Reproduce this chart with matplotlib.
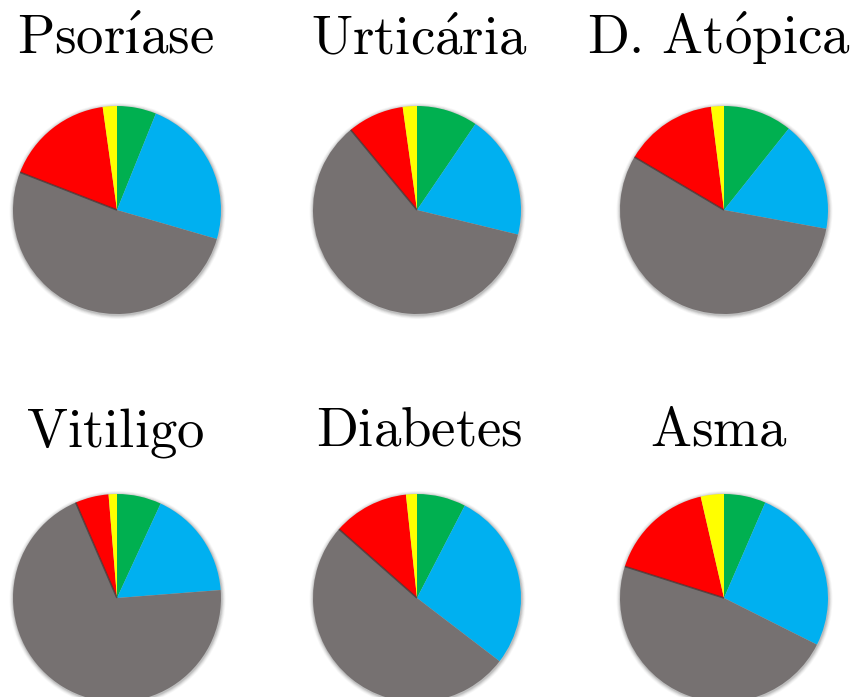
import numpy as np
import matplotlib
matplotlib.use("Agg")
import matplotlib.pyplot as plt
from matplotlib.patches import Circle

plt.rcParams["mathtext.fontset"] = "cm"

# Disease panels and share of each category (percent)
titles = [
    r"$\mathrm{Psor\acute{ı}ase}$",
    r"$\mathrm{Urtic\acute{a}ria}$",
    r"$\mathrm{D.\,At\acute{o}pica}$",
    r"$\mathrm{Vitiligo}$",
    r"$\mathrm{Diabetes}$",
    r"$\mathrm{Asma}$",
]
green = [6.1, 9.5, 10.7, 6.9, 7.6, 6.5]
blue = [23.4, 19.3, 17.2, 16.9, 27.8, 25.9]
gray = [51.4, 60.2, 55.6, 69.8, 51.1, 47.5]
red = [16.9, 8.8, 14.5, 5.2, 11.8, 16.5]
yellow = [2.2, 2.2, 2.0, 1.3, 1.7, 3.6]

colors = ["#00B050", "#00B0F0", "#767171", "#FF0000", "#FFFF00"]

W, H = 853, 697
fig = plt.figure(figsize=(W / 100, H / 100), dpi=100)
ax = fig.add_axes([0, 0, 1, 1])

centers_x = [117, 417, 724]
title_x = [115, 419, 719]
row_center_y = [H - 210, H - 598]
title_y = [H - 54, H - 446]
R = 104

for i, title in enumerate(titles):
    row, col = divmod(i, 3)
    cx, cy = centers_x[col], row_center_y[row]
    # soft drop shadow
    for k, a in zip(range(5, 0, -1), [0.03, 0.04, 0.05, 0.07, 0.09]):
        ax.add_patch(Circle((cx + 0.5, cy - 1), R + k * 0.8, facecolor="black",
                            edgecolor="none", alpha=a, zorder=1))
    vals = [green[i], blue[i], gray[i], red[i], yellow[i]]
    wedges, _ = ax.pie(vals, colors=colors, startangle=90, counterclock=False,
                       center=(cx, cy), radius=R, frame=True,
                       wedgeprops=dict(linewidth=0))
    for w in wedges:
        w.set_zorder(2)
    # darker seam where the gray slice meets the red one
    ang = np.deg2rad(wedges[2].theta1)
    ax.plot([cx, cx + R * np.cos(ang)], [cy, cy + R * np.sin(ang)],
            color="#3a3838", lw=1.2, alpha=0.7, zorder=3, solid_capstyle="butt")
    ax.text(title_x[col], title_y[row], title, ha="center", va="baseline",
            fontsize=39.5, color="black", zorder=4)

ax.set_xlim(0, W)
ax.set_ylim(0, H)
ax.set_aspect("equal")
ax.axis("off")
fig.savefig("out.png", dpi=100, facecolor="white")
